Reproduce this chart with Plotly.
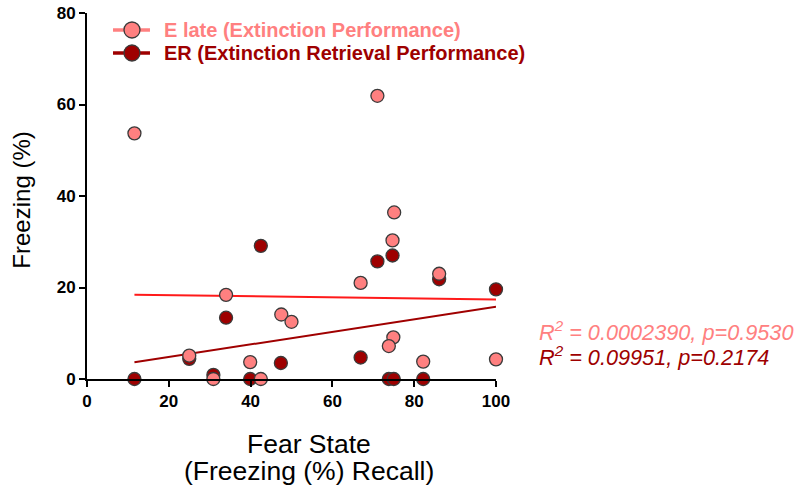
import plotly.graph_objects as go

# Fear state at recall (x) for each subject, with freezing during late extinction
# and at extinction retrieval (y)
elate_x = [11.6, 34.0, 47.5, 50.0, 25.0, 39.9, 30.9, 42.5, 71.0, 75.1, 74.7, 66.9, 86.1, 74.9, 73.8, 82.2, 100.0]
elate_y = [53.7, 18.4, 14.1, 12.5, 5.1, 3.7, 0.0, 0.0, 61.9, 36.4, 30.3, 21.0, 23.0, 9.1, 7.2, 3.8, 4.3]

er_x = [11.6, 42.5, 34.0, 47.4, 25.0, 30.9, 39.9, 71.0, 74.7, 86.1, 100.0, 66.9, 73.8, 75.0, 82.2]
er_y = [0.0, 29.1, 13.4, 3.5, 4.4, 0.9, 0.0, 25.7, 27.0, 21.8, 19.6, 4.7, 0.0, 0.0, 0.0]

# Linear regression lines (endpoints over the observed x range)
fit_x = [11.6, 100.0]
elate_fit = [18.4, 17.4]
er_fit = [3.65, 15.8]

series_names = ["E late (Extinction Performance)", "ER (Extinction Retrieval Performance)"]
elate_stats = "R<sup>2</sup> = 0.0002390, p=0.9530"
er_stats = "R<sup>2</sup> = 0.09951, p=0.2174"

x_title_lines = ["Fear State", "(Freezing (%) Recall)"]
y_title = "Freezing (%)"

PINK = "#FF8080"
DARK = "#9E0000"
FONT = "Arial, Liberation Sans, sans-serif"

fig = go.Figure()

fig.add_trace(go.Scatter(x=fit_x, y=elate_fit, mode="lines",
                         line=dict(color="#FF1A1A", width=2), showlegend=False,
                         hoverinfo="skip"))
fig.add_trace(go.Scatter(x=fit_x, y=er_fit, mode="lines",
                         line=dict(color="#A00000", width=2), showlegend=False,
                         hoverinfo="skip"))

marker_line = dict(color="#3a3a3a", width=1.3)
fig.add_trace(go.Scatter(x=er_x, y=er_y, mode="markers", name=series_names[1],
                         marker=dict(color=DARK, size=13, line=marker_line),
                         showlegend=False, cliponaxis=False))
fig.add_trace(go.Scatter(x=elate_x, y=elate_y, mode="markers", name=series_names[0],
                         marker=dict(color=PINK, size=13, line=marker_line),
                         showlegend=False, cliponaxis=False))

# Key in the upper-left corner: line + circle symbol, then a bold coloured label
key_rows = [(series_names[0], PINK, 0.9536), (series_names[1], DARK, 0.8907)]
for name, color, yk in key_rows:
    fig.add_shape(type="line", xref="paper", yref="paper", x0=0.0636, x1=0.154,
                  y0=yk, y1=yk, line=dict(color=color, width=3.5))
    fig.add_shape(type="circle", xref="paper", yref="paper",
                  xsizemode="pixel", ysizemode="pixel", xanchor=0.110, yanchor=yk,
                  x0=-8, x1=8, y0=-8, y1=8,
                  fillcolor=color, line=dict(color="#3a3a3a", width=1.3))
    fig.add_annotation(x=0.1834, y=yk, xref="paper", yref="paper", xanchor="left",
                       yanchor="middle", text=f"<b>{name}</b>", showarrow=False,
                       font=dict(family=FONT, size=20, color=color))

# Regression statistics
fig.add_annotation(x=1.10, y=0.131, xref="paper", yref="paper", xanchor="left", yanchor="middle",
                   text=f"<i>{elate_stats}</i>", showarrow=False,
                   font=dict(family=FONT, size=21.7, color=PINK))
fig.add_annotation(x=1.10, y=0.063, xref="paper", yref="paper", xanchor="left", yanchor="middle",
                   text=f"<i>{er_stats}</i>", showarrow=False,
                   font=dict(family=FONT, size=21.7, color=DARK))

# Two-line x-axis title
for line_text, ypos in zip(x_title_lines, [-0.178, -0.252]):
    fig.add_annotation(x=0.543, y=ypos, xref="paper", yref="paper", xanchor="center",
                       yanchor="middle", text=line_text, showarrow=False,
                       font=dict(family=FONT, size=26.5, color="black"))

# Rotated y-axis title
fig.add_annotation(x=-0.159, y=0.49, xref="paper", yref="paper", xanchor="center",
                   yanchor="middle", text=y_title, showarrow=False, textangle=-90,
                   font=dict(family=FONT, size=24, color="black"))

axis_common = dict(showgrid=False, zeroline=False, showline=True, linecolor="black",
                   linewidth=2, ticks="outside", ticklen=6, tickwidth=2, tickcolor="black",
                   automargin=False,
                   tickfont=dict(family=FONT, size=17, color="black", weight="bold"))

fig.update_xaxes(range=[0, 100], tickvals=[0, 20, 40, 60, 80, 100], **axis_common)
fig.update_yaxes(range=[0, 80], tickvals=[0, 20, 40, 60, 80], **axis_common)

fig.update_layout(
    width=798, height=491,
    margin=dict(l=87, r=302, t=13, b=112),
    plot_bgcolor="white", paper_bgcolor="white",
    font=dict(family=FONT),
    showlegend=False,
)

fig.write_html("out.html")
